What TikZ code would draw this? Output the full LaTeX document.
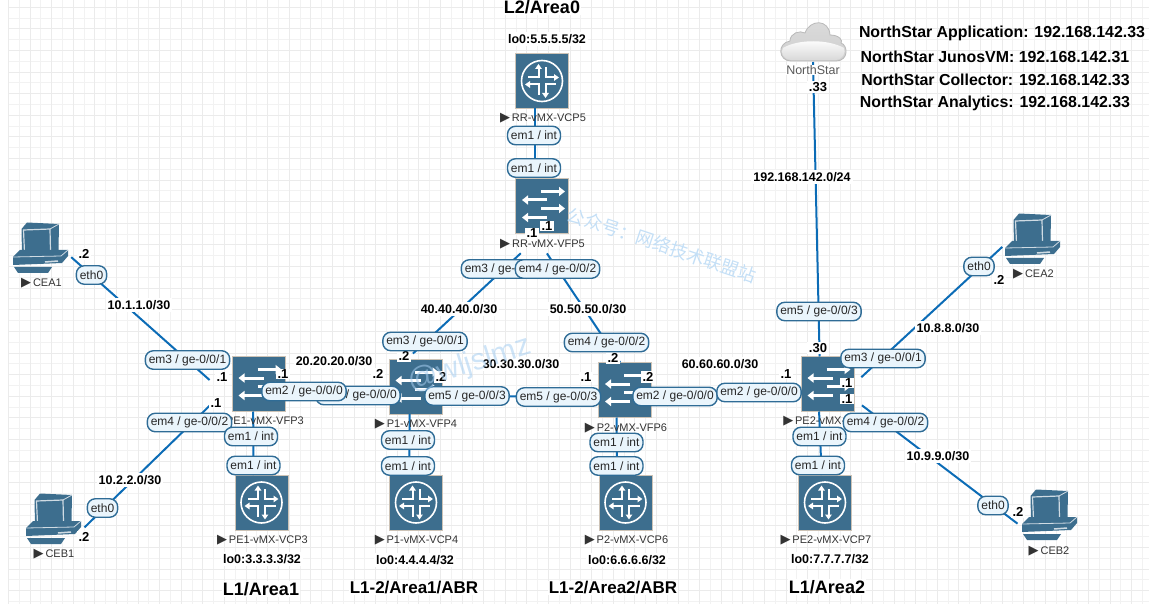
\documentclass[tikz,border=0pt]{standalone}
\usepackage{fontspec}
\usetikzlibrary{arrows.meta}
\setmainfont{Liberation Sans}
\newfontfamily\cjkfont{Noto Sans CJK SC}
\newfontfamily\markfont{DejaVu Sans}
\definecolor{boxblue}{HTML}{3D6E8E}
\definecolor{boxedge}{HTML}{CDC3B6}
\definecolor{linkblue}{HTML}{0C6CB6}
\definecolor{pilledge}{HTML}{2F6C96}
\definecolor{pillfill}{HTML}{EAF5FC}
\definecolor{waterblue}{HTML}{C4DFF6}
\definecolor{stampblue}{HTML}{A5CDF0}
\newcommand{\devmark}{{\markfont\fontsize{13}{13}\selectfont ▶}\,}
\newcommand{\routerglyph}[1]{%
  \begin{scope}[shift={(#1.center)}]
    \draw [white,line width=1.6pt] (0,0) circle (20.5pt);
    \foreach \a in {0,90,180,270} {
      \begin{scope}[rotate=\a]
        \draw [white,line width=2pt,-{Triangle[width=6.5pt,length=5pt]}] (-3.5,-2.5) -- (-3.5,-17);
        \draw [white,line width=2pt] (3.5,-3) -- (3.5,-14);
      \end{scope}
    }
  \end{scope}}
\newcommand{\switchglyph}[1]{%
  \begin{scope}[shift={(#1.center)},white,line width=3pt]
    \draw [-{Triangle[width=9pt,length=6pt]}] (-1,-14.5) -- (23,-14.5);
    \draw [-{Triangle[width=9pt,length=6pt]}] (5,-6) -- (-20,-6);
    \draw [-{Triangle[width=9pt,length=6pt]}] (-1,2.5) -- (23,2.5);
    \draw [-{Triangle[width=9pt,length=6pt]}] (5,11.5) -- (-20,11.5);
  \end{scope}}
\newcommand{\pcglyph}[1]{%
  \begin{scope}[shift={(#1.center)}]
    \fill [boxblue] (-18.5,-19) -- (-13,-25.5) -- (19,-24) -- (18.5,2) -- (10,5) -- (-18,6.5) -- cycle;
    \draw [white!75!boxblue,line width=1.2pt] (-16.5,-18) -- (10,-19) -- (10.5,3) -- (-15.5,4) -- cycle;
    \draw [white!75!boxblue,line width=.8pt] (10,-19) -- (19,-24);
    \fill [boxblue] (-27,9) -- (-20,2) -- (28,2) -- (28,8) -- (22,15) -- (-27,17) -- cycle;
    \draw [white!75!boxblue,line width=.8pt] (-27,9) -- (21,8) -- (28,2);
    \draw [white!75!boxblue,line width=1.5pt] (5,14) -- (18,13);
    \fill [boxblue] (-26,19) -- (12,19) -- (8,25) -- (-22,25) -- cycle;
  \end{scope}}
\newcommand{\cloudglyph}[1]{%
  \begin{scope}[shift={(#1.center)}]
    \path [draw=gray!55,line width=.8pt,top color=gray!28,bottom color=gray!38]
      (-22,19) .. controls (-35,19) and (-36,1) .. (-23,-1)
      .. controls (-23,-9) and (-13,-12) .. (-8,-9)
      .. controls (-3,-23) and (16,-23) .. (17,-7)
      .. controls (27,-7) and (30,-1) .. (28,1)
      .. controls (35,3) and (36,19) .. (23,19) -- cycle;
    \path [top color=white,bottom color=gray!30]
      (-21,18) .. controls (-30,18) and (-33,10) .. (-30,6)
      .. controls (-15,-3) and (15,-3) .. (31,6)
      .. controls (33,10) and (30,18) .. (22,18) -- cycle;
  \end{scope}}

\begin{document}
\begin{tikzpicture}
          [x=1pt,y=-1pt,
          font=\fontsize{12}{14}\selectfont,
          gridminor/.style={draw=black!5,line width=.8pt},
          gridmajor/.style={draw=black!8,line width=.8pt},
          router/.style={shape=rectangle,fill=boxblue,draw=boxedge,line width=.7pt,minimum width=53pt,minimum height=55pt,inner sep=0pt,outer sep=0pt},
          pcbox/.style={shape=rectangle,minimum width=55pt,minimum height=50pt,inner sep=0pt,outer sep=0pt},
          link/.style={draw=linkblue,line width=2pt},
          port/.style={shape=rectangle,rounded corners=8pt,draw=pilledge,fill=pillfill,line width=1.4pt,minimum height=18.5pt,inner xsep=3.5pt,inner ysep=0pt,text=black!85},
          devname/.style={font=\fontsize{11}{13}\selectfont,text=black!80,inner sep=0pt},
          net/.style={font=\bfseries\fontsize{12.5}{14}\selectfont,fill=white,inner xsep=2pt,inner ysep=2pt},
          dot/.style={font=\bfseries\fontsize{13}{15}\selectfont,fill=white,inner xsep=2pt,inner ysep=1pt},
          area/.style={font=\bfseries\fontsize{18}{20}\selectfont,fill=white,inner sep=1pt},
          info/.style={font=\bfseries\fontsize{15.9}{18}\selectfont,inner sep=0pt},
          water/.style={text=waterblue,inner sep=0pt}]

          \useasboundingbox (0,0) rectangle (1160,604);
          \begin{scope}[shift={(8.3,7.3)}]
            \draw [gridminor,step=10.8pt] (0,-7.3) grid (1141,596.7);
            \draw [gridmajor,step=21.6pt] (0,-7.3) grid (1141,596.7);
          \end{scope}

          % devices
          \node (vcp5) [router] at (542,81) {};
          \node (vfp5) [router] at (542,206) {};
          \node (vcp3) [router] at (261.5,502.5) {};
          \node (vfp3) [router] at (258.5,384) {};
          \node (vcp4) [router] at (416,502.5) {};
          \node (vfp4) [router] at (415.5,386.5) {};
          \node (vcp6) [router] at (625.5,502.5) {};
          \node (vfp6) [router] at (625,390) {};
          \node (vcp7) [router] at (825,502.5) {};
          \node (vfp7) [router] at (827.5,384) {};
          \node (cea1) [pcbox] at (40,248) {};
          \node (ceb1) [pcbox] at (53,519) {};
          \node (cea2) [pcbox] at (1032,239) {};
          \node (ceb2) [pcbox] at (1049,515) {};
          \node (northstar) [pcbox,minimum width=64pt,minimum height=40pt] at (813,42) {};

          \foreach \n in {vcp3,vcp4,vcp5,vcp6,vcp7} {\routerglyph{\n}}
          \foreach \n in {vfp3,vfp4,vfp5,vfp6,vfp7} {\switchglyph{\n}}
          \foreach \n in {cea1,ceb1,cea2,ceb2} {\pcglyph{\n}}
          \cloudglyph{northstar}

          % links
          \draw [link,shorten <=5pt,shorten >=30pt] (cea1.-12) to (vfp3.211);
          \draw [link,shorten <=5.5pt,shorten >=30pt] (ceb1.-24) to (vfp3.west);
          \draw [link] (vfp3.-20) to (vfp4.200);
          \draw [link] (vfp4.-20) to (vfp6.194);
          \draw [link] (vfp6.-12) to (vfp7.188);
          \draw [link,shorten <=29pt,shorten >=8pt] (vfp5.south) to (vfp4.107);
          \draw [link,shorten <=24pt] (vfp5.253) to (vfp6.100);
          \draw [link] (vcp5.256) to (vfp5.104);
          \draw [link] (vfp3.259) to (vcp3.106);
          \draw [link] (vfp4.258) to (vcp4.104);
          \draw [link] (vfp6.253) to (vcp6.107);
          \draw [link] (vfp7.253) to (vcp7.97);
          \draw [link] (northstar.south) to (vfp7.106);
          \draw [link,shorten <=10pt,shorten >=3pt] (vfp7.east) to (cea2.192);
          \draw [link,shorten <=10pt,shorten >=5pt] (vfp7.-30) to (ceb2.203);

          % names of the devices
          \node (ncea1) [devname] at (41.5,283) {\devmark CEA1};
          \node (nceb1) [devname] at (54,554) {\devmark CEB1};
          \node (ncea2) [devname] at (1033.5,274) {\devmark CEA2};
          \node (nceb2) [devname] at (1049,551) {\devmark CEB2};
          \node (nvcp5) [devname] at (543,118) {\devmark RR-vMX-VCP5};
          \node (nvfp5) [devname] at (542.5,244) {\devmark RR-vMX-VFP5};
          \node (nvfp3) [devname] at (259,421) {\devmark PE1-vMX-VFP3};
          \node (nvcp3) [devname] at (262.5,540) {\devmark PE1-vMX-VCP3};
          \node (nvfp4) [devname] at (416,424) {\devmark P1-vMX-VFP4};
          \node (nvcp4) [devname] at (416.5,540) {\devmark P1-vMX-VCP4};
          \node (nvfp6) [devname] at (626,428) {\devmark P2-vMX-VFP6};
          \node (nvcp6) [devname] at (626.5,540) {\devmark P2-vMX-VCP6};
          \node (nvfp7) [devname] at (828,421) {\devmark PE2-vMX-VFP7};
          \node (nvcp7) [devname] at (826,540) {\devmark PE2-vMX-VCP7};
          \node (nnorth) [devname,font=\fontsize{12.5}{14}\selectfont,fill=white,text=black!65] at (813,70) {NorthStar};

          % subnets and loopbacks
          \node (n1) [net] at (139,305) {10.1.1.0/30};
          \node (n2) [net] at (130,480) {10.2.2.0/30};
          \node (n3) [net] at (334,361) {20.20.20.0/30};
          \node (n4) [net] at (521,364) {30.30.30.0/30};
          \node (n5) [net] at (459,309) {40.40.40.0/30};
          \node (n6) [net] at (588,309) {50.50.50.0/30};
          \node (n7) [net] at (720,364) {60.60.60.0/30};
          \node (n8) [net] at (948,328) {10.8.8.0/30};
          \node (n9) [net] at (938,456) {10.9.9.0/30};
          \node (n10) [net] at (802,177) {192.168.142.0/24};
          \node (lo5) [net] at (547,39) {lo0:5.5.5.5/32};
          \node (lo3) [net] at (262,559) {lo0:3.3.3.3/32};
          \node (lo4) [net] at (415,560) {lo0:4.4.4.4/32};
          \node (lo6) [net] at (627,560) {lo0:6.6.6.6/32};
          \node (lo7) [net] at (830,559) {lo0:7.7.7.7/32};

          % host addresses
          \node (d1) [dot] at (84,254) {.2};
          \node (d2) [dot] at (84,537) {.2};
          \node (d3) [dot] at (222,377) {.1};
          \node (d4) [dot] at (216,403) {.1};
          \node (d5) [dot] at (283,374) {.1};
          \node (d6) [dot] at (378,374) {.2};
          \node (d7) [dot] at (404,356) {.2};
          \node (d8) [dot] at (441,377) {.2};
          \node (d9) [dot] at (586,377) {.1};
          \node (d10) [dot] at (613,358) {.2};
          \node (d11) [dot] at (648,377) {.2};
          \node (d12) [dot] at (532,233) {.1};
          \node (d13) [dot] at (547,226) {.1};
          \node (d14) [dot] at (818,348) {.30};
          \node (d15) [dot] at (786,374) {.1};
          \node (d16) [dot] at (847,383) {.1};
          \node (d17) [dot] at (847,399) {.1};
          \node (d18) [dot] at (999,280) {.2};
          \node (d19) [dot] at (1018,512) {.2};
          \node (d20) [dot] at (818,87) {.33};

          % interfaces
          \node (p1) [port] at (91.5,275) {eth0};
          \node (p2) [port] at (102.5,508) {eth0};
          \node (p3) [port] at (979,266.5) {eth0};
          \node (p4) [port] at (993,505.5) {eth0};
          \node (p5) [port] at (534,135.5) {em1 / int};
          \node (p6) [port] at (534,168) {em1 / int};
          \node (p7) [port] at (503.5,269) {em3 / ge-0/0/1};
          \node (p8) [port] at (557.5,269) {em4 / ge-0/0/2};
          \node (p9) [port] at (187.5,360) {em3 / ge-0/0/1};
          \node (p10) [port] at (189.5,422.5) {em4 / ge-0/0/2};
          \node (p11) [port] at (251,436.5) {em1 / int};
          \node (p12) [port] at (253.5,465.5) {em1 / int};
          \node (p13) [port] at (358,395.5) {em2 / ge-0/0/0};
          \node (p14) [port] at (304,391.5) {em2 / ge-0/0/0};
          \node (p15) [port] at (425,341.5) {em3 / ge-0/0/1};
          \node (p16) [port] at (467,396) {em5 / ge-0/0/3};
          \node (p17) [port] at (408,440) {em1 / int};
          \node (p18) [port] at (408,466) {em1 / int};
          \node (p19) [port] at (606.5,342.5) {em4 / ge-0/0/2};
          \node (p20) [port] at (558.5,397) {em5 / ge-0/0/3};
          \node (p21) [port] at (675,396.5) {em2 / ge-0/0/0};
          \node (p22) [port] at (616.5,442.5) {em1 / int};
          \node (p23) [port] at (616.5,466) {em1 / int};
          \node (p24) [port] at (819,311.5) {em5 / ge-0/0/3};
          \node (p25) [port] at (883,358.5) {em3 / ge-0/0/1};
          \node (p26) [port] at (885.5,422.5) {em4 / ge-0/0/2};
          \node (p27) [port] at (759,392.5) {em2 / ge-0/0/0};
          \node (p28) [port] at (819.5,436.5) {em1 / int};
          \node (p29) [port] at (818,465.5) {em1 / int};

          % areas and the NorthStar list
          \node (a0) [area] at (542,7) {L2/Area0};
          \node (a1) [area] at (261,589) {L1/Area1};
          \node (a2) [area,font=\bfseries\fontsize{17}{20}\selectfont] at (414,588) {L1-2/Area1/ABR};
          \node (a3) [area,font=\bfseries\fontsize{17}{20}\selectfont] at (613,588) {L1-2/Area2/ABR};
          \node (a4) [area] at (827,587) {L1/Area2};
          \node (i1) [info] at (1002,33) {NorthStar Application: 192.168.142.33};
          \node (i2) [info] at (995,57) {NorthStar JunosVM: 192.168.142.31};
          \node (i3) [info] at (995.5,80) {NorthStar Collector: 192.168.142.33};
          \node (i4) [info] at (995,103) {NorthStar Analytics: 192.168.142.33};

          % watermarks
          \node (w1) [water,font=\cjkfont\fontsize{18}{20}\selectfont,rotate=-18.5] at (662,245) {公众号：网络技术联盟站};
          \node (w2) [water,text=stampblue,font=\fontsize{30}{32}\selectfont,opacity=.55,rotate=17.5] at (470,365) {@wljslmz};

        \end{tikzpicture}
\end{document}
